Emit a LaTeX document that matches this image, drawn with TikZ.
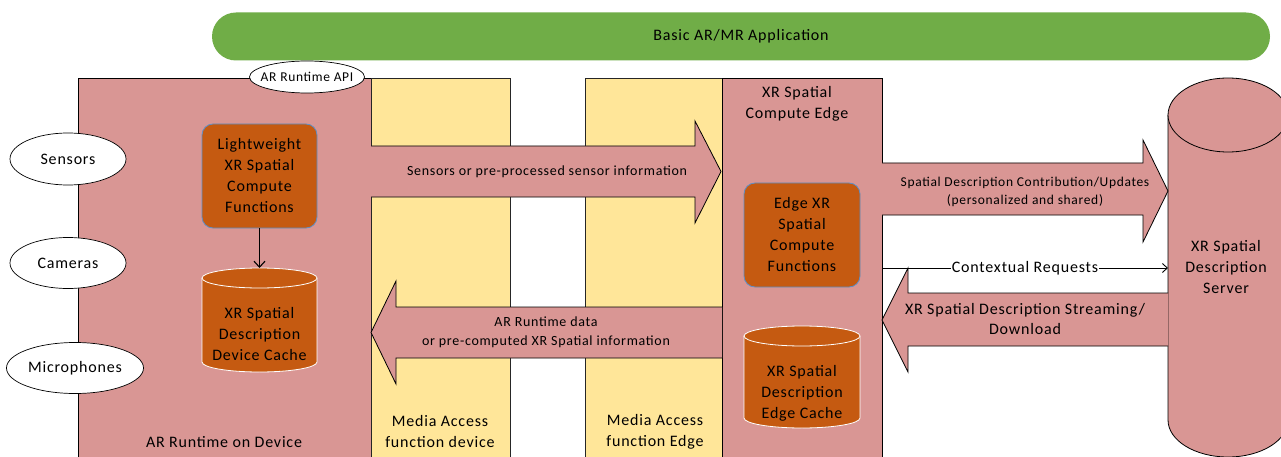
\documentclass[tikz,border=0pt]{standalone}
\usepackage{fontspec}
\setmainfont[LetterSpace=5]{Carlito}
\usetikzlibrary{shapes.geometric,arrows.meta}
\definecolor{pinkc}{HTML}{D99694}
\definecolor{yellowc}{HTML}{FFE699}
\definecolor{orangec}{HTML}{C55A11}
\definecolor{greenc}{HTML}{70AD47}
\definecolor{bluec}{HTML}{5B8FC9}
\tikzset{
  mainbox/.style={draw=black, fill=pinkc, line width=0.7pt, inner sep=0pt},
  ybox/.style={draw=black!85, fill=yellowc, line width=0.7pt, inner sep=0pt},
  ell/.style={ellipse, draw=black, fill=white, line width=0.7pt, inner sep=0pt, font=\fontsize{16}{20}\selectfont},
  orbox/.style={rounded corners=11pt, draw=bluec, fill=orangec, line width=0.8pt, align=center, inner sep=0pt, font=\fontsize{16}{21}\selectfont},
  lbl/.style={align=center, inner sep=0pt, font=\fontsize{16}{21}\selectfont},
  bigarrow/.style={fill=pinkc},
  bigarrowline/.style={draw=black, line width=0.8pt, line join=miter},
}
\begin{document}
\begin{tikzpicture}[x=1pt,y=-1pt]
\clip (0,0) rectangle (1281,457);
\fill[white] (0,0) rectangle (1281,457);
% application bar
\node[fill=greenc, rounded corners=24pt, minimum width=1058pt, minimum height=48pt, inner sep=0pt, font=\fontsize{16}{20}\selectfont] (app) at (741,36.5) {Basic AR/MR Application};
% main boxes
\node[mainbox, anchor=north west, minimum width=293pt, minimum height=400pt] (ard) at (78,78) {};
\node[ybox, anchor=north west, minimum width=139pt, minimum height=400pt] (mafd) at (371,78) {};
\node[ybox, anchor=north west, minimum width=137pt, minimum height=400pt] (mafe) at (585,78) {};
\node[mainbox, anchor=north west, minimum width=160pt, minimum height=400pt] (edge) at (722,78) {};
\node[lbl] (ardlbl) at (224,442) {AR Runtime on Device};
\node[lbl] (mafdlbl) at (440,431.5) {Media Access\\function device};
\node[lbl] (mafelbl) at (655,431.5) {Media Access\\function Edge};
\node[lbl] (edgelbl) at (797,104) {XR Spatial\\Compute Edge};
% API ellipse
\node[ell, minimum width=115pt, minimum height=32pt] (api) at (307,77) {};
\node[lbl, font=\fontsize{13.5}{16}\selectfont] (apilbl) at (api.center) {AR Runtime API};
% input ellipses
\node[ell, minimum width=116pt, minimum height=52pt] (sens) at (68,159) {Sensors};
\node[ell, minimum width=116pt, minimum height=51pt] (cam) at (68,263) {Cameras};
\node[ell, minimum width=137pt, minimum height=51pt] (mic) at (75,368) {Microphones};
% lightweight functions
\node[orbox, minimum width=115pt, minimum height=104pt] (lw) at (259.5,176) {Lightweight\\XR Spatial\\Compute\\Functions};
% device cache cylinder
\fill[orangec] (202,278) rectangle (317,362);
\fill[orangec] (259.5,362) ellipse [x radius=57.5pt, y radius=10pt];
\draw[white, line width=0.8pt] (202,278) -- (202,362) arc[start angle=180, end angle=360, x radius=57.5pt, y radius=10pt] -- (317,278);
\draw[white, line width=0.8pt, fill=orangec] (259.5,278) ellipse [x radius=57.5pt, y radius=10pt];
\coordinate (dctop) at (259.5,268);
\node[lbl] (dc) at (259.5,334) {XR Spatial\\Description\\Device Cache};
\draw[line width=1.1pt, -{Straight Barb[length=6pt,width=11pt]}] (lw.south) -- (dctop);
% edge functions
\node[orbox, minimum width=116pt, minimum height=104pt] (ef) at (802,235) {Edge XR\\Spatial\\Compute\\Functions};
% edge cache cylinder
\fill[orangec] (744,336) rectangle (860,418);
\fill[orangec] (802,418) ellipse [x radius=58pt, y radius=10pt];
\draw[white, line width=0.8pt] (744,336) -- (744,418) arc[start angle=180, end angle=360, x radius=58pt, y radius=10pt] -- (860,336);
\draw[white, line width=0.8pt, fill=orangec] (802,336) ellipse [x radius=58pt, y radius=10pt];
\node[lbl] (ec) at (802,393) {XR Spatial\\Description\\Edge Cache};
% server cylinder
\fill[pinkc] (1168,115) rectangle (1288,420);
\fill[pinkc] (1228,420) ellipse [x radius=60pt, y radius=37pt];
\draw[line width=0.8pt] (1168,115) -- (1168,420) arc[start angle=180, end angle=360, x radius=60pt, y radius=37pt] -- (1288,115);
\draw[line width=0.8pt, fill=pinkc] (1228,115) ellipse [x radius=60pt, y radius=37pt];
\node[lbl] (srv) at (1226,267) {XR Spatial\\Description\\Server};
% arrow 1: sensors info
\fill[bigarrow] (371,146) -- (695,146) -- (695,121) -- (721,171.5) -- (695,223) -- (695,197) -- (371,197) -- cycle;
\draw[bigarrowline] (371,146) -- (695,146) -- (695,121) -- (721,171.5) -- (695,223) -- (695,197) -- (371,197);
\node[lbl, font=\fontsize{14}{17}\selectfont] (a1lbl) at (547,172) {Sensors or pre-processed sensor information};
% arrow 2: runtime data
\fill[bigarrow] (722,307) -- (396,307) -- (396,281) -- (371,332.5) -- (396,384) -- (396,358) -- (722,358) -- cycle;
\draw[bigarrowline] (722,307) -- (396,307) -- (396,281) -- (371,332.5) -- (396,384) -- (396,358) -- (722,358);
\node[lbl, font=\fontsize{14}{19}\selectfont] (a2lbl) at (546,332.5) {AR Runtime data\\or pre-computed XR Spatial information};
% arrow 3: contribution
\fill[bigarrow] (882,163) -- (1143,163) -- (1143,140) -- (1168,191) -- (1143,242) -- (1143,215) -- (882,215) -- cycle;
\draw[bigarrowline] (882,163) -- (1143,163) -- (1143,140) -- (1168,191) -- (1143,242) -- (1143,215) -- (882,215);
\node[lbl, font=\fontsize{13.5}{18}\selectfont] (a3lbl) at (1025,192) {Spatial Description Contribution/Updates\\(personalized and shared)};
% arrow 4: streaming
\fill[bigarrow] (1168,293) -- (908,293) -- (908,268) -- (882,320) -- (908,372) -- (908,346) -- (1168,346) -- cycle;
\draw[bigarrowline] (1168,293) -- (908,293) -- (908,268) -- (882,320) -- (908,372) -- (908,346) -- (1168,346);
\node[lbl, font=\fontsize{16}{20}\selectfont] (a4lbl) at (1025,319) {XR Spatial Description Streaming/\\Download};
% contextual requests
\coordinate (crs) at (882,268);
\coordinate (cre) at (1168,268);
\draw[line width=0.9pt, -{Straight Barb[length=5pt,width=9pt]}] (crs) -- node[fill=white, inner sep=1pt, font=\fontsize{16}{18}\selectfont] (crlbl) {Contextual Requests} (cre);
\end{tikzpicture}
\end{document}
